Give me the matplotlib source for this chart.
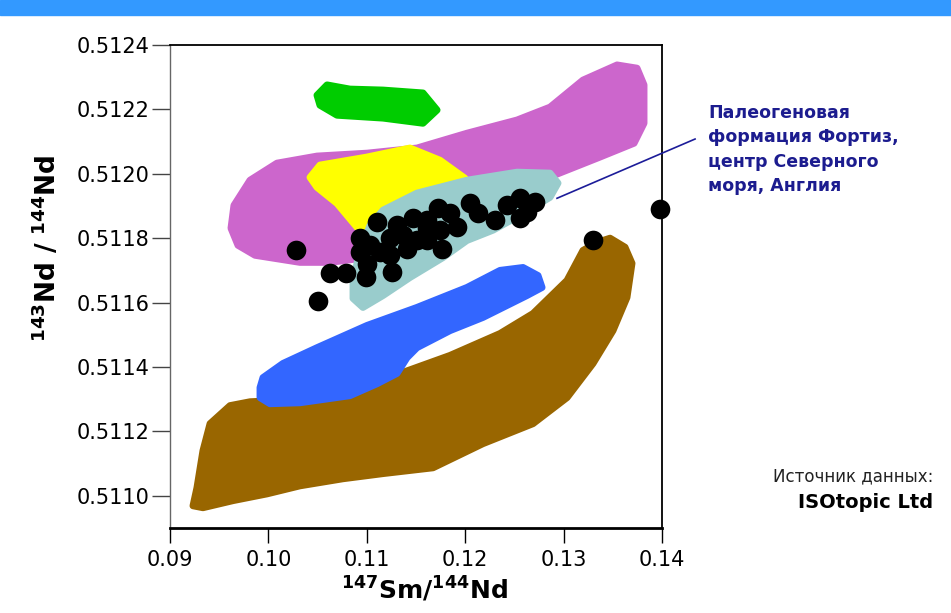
import matplotlib
matplotlib.use('Agg')
import matplotlib.pyplot as plt
from matplotlib.patches import Polygon, Rectangle
import numpy as np

plt.rcParams['font.family'] = ['DejaVu Sans']
plt.rcParams['mathtext.fontset'] = 'dejavusans'

# field outlines (147Sm/144Nd, 143Nd/144Nd)
green_x = [0.10494, 0.10596, 0.10829, 0.11165, 0.11571, 0.11714, 0.11571, 0.11165, 0.10697, 0.10524]
green_y = [0.512244, 0.512276, 0.512263, 0.512260, 0.512251, 0.512198, 0.512157, 0.512173, 0.512182, 0.512213]

magenta_x = [0.09620, 0.09650, 0.09813, 0.10087, 0.10494, 0.11002, 0.11510, 0.12018, 0.12527, 0.12862,
             0.13197, 0.13543, 0.13746, 0.13817, 0.13817, 0.13716, 0.13370, 0.12933, 0.12354, 0.11846,
             0.11337, 0.10931, 0.10626, 0.10321, 0.09864, 0.09691]
magenta_y = [0.511831, 0.511902, 0.511980, 0.512033, 0.512055, 0.512064, 0.512080, 0.512126, 0.512167, 0.512207,
             0.512291, 0.512338, 0.512328, 0.512276, 0.512157, 0.512095, 0.512052, 0.511999, 0.511964, 0.511918,
             0.511840, 0.511737, 0.511725, 0.511725, 0.511747, 0.511778]

yellow_x = [0.10423, 0.10524, 0.11002, 0.11439, 0.11744, 0.11998, 0.11642, 0.11236, 0.11033, 0.10900, 0.10697, 0.10494]
yellow_y = [0.511989, 0.512027, 0.512052, 0.512080, 0.512042, 0.511986, 0.511902, 0.511856, 0.511834, 0.511834, 0.511908, 0.511958]

cyan_x = [0.11165, 0.11510, 0.12018, 0.12527, 0.12862, 0.12943, 0.12862, 0.12557, 0.12283, 0.12018,
          0.11775, 0.11439, 0.11165, 0.10961, 0.10860, 0.10860, 0.10931, 0.11033]
cyan_y = [0.511887, 0.511940, 0.511980, 0.512005, 0.512002, 0.511971, 0.511927, 0.511871, 0.511825, 0.511793,
          0.511740, 0.511678, 0.511622, 0.511585, 0.511613, 0.511669, 0.511762, 0.511840]

blue_x = [0.09915, 0.09945, 0.10148, 0.10494, 0.11002, 0.11510, 0.12018, 0.12354, 0.12588, 0.12740, 0.12781,
          0.12628, 0.12181, 0.11846, 0.11510, 0.11409, 0.11307, 0.11104, 0.10829, 0.10321, 0.10016, 0.09915]
blue_y = [0.511336, 0.511367, 0.511411, 0.511460, 0.511529, 0.511585, 0.511647, 0.511700, 0.511709, 0.511684, 0.511647,
          0.511622, 0.511554, 0.511513, 0.511460, 0.511429, 0.511380, 0.511348, 0.511311, 0.511289, 0.511286, 0.511305]

brown_x = [0.09234, 0.09274, 0.09335, 0.09407, 0.09610, 0.09813, 0.10494, 0.10961, 0.11337, 0.11846, 0.12354,
           0.12689, 0.13035, 0.13197, 0.13340, 0.13472, 0.13624, 0.13695, 0.13644, 0.13502, 0.13299, 0.13035,
           0.12689, 0.12181, 0.11673, 0.11165, 0.10758, 0.10321, 0.09986, 0.09640, 0.09335]
brown_y = [0.510969, 0.511025, 0.511140, 0.511224, 0.511280, 0.511292, 0.511302, 0.511327, 0.511380, 0.511436, 0.511504,
           0.511566, 0.511669, 0.511762, 0.511787, 0.511800, 0.511772, 0.511722, 0.511616, 0.511513, 0.511411, 0.511305,
           0.511224, 0.511162, 0.511087, 0.511069, 0.511053, 0.511031, 0.511006, 0.510985, 0.510963]

# Fortiz formation samples
sm_nd = [0.10281, 0.10504, 0.10626, 0.10789, 0.10992, 0.11256, 0.10931, 0.10931, 0.11104, 0.11033,
         0.11134, 0.11236, 0.11307, 0.11409, 0.11470, 0.11612, 0.11236, 0.11002, 0.11724, 0.11612,
         0.11846, 0.11917, 0.11744, 0.11612, 0.11764, 0.12049, 0.12130, 0.12303, 0.12425, 0.12557,
         0.12709, 0.12557, 0.12628, 0.13299, 0.13980, 0.11368, 0.11510]
nd_nd = [0.511762, 0.511604, 0.511691, 0.511691, 0.511678, 0.511694, 0.511800, 0.511756, 0.511849, 0.511778,
         0.511756, 0.511747, 0.511840, 0.511768, 0.511862, 0.511831, 0.511800, 0.511719, 0.511893, 0.511856,
         0.511877, 0.511834, 0.511824, 0.511793, 0.511768, 0.511908, 0.511877, 0.511856, 0.511902, 0.511924,
         0.511912, 0.511862, 0.511880, 0.511793, 0.511890, 0.511809, 0.511793]

pointer_x = [0.12933, 0.14336]
pointer_y = [0.511924, 0.512108]

xticks = [0.09, 0.10, 0.11, 0.12, 0.13, 0.14]
xtick_labels = ['0.09', '0.10', '0.11', '0.12', '0.13', '0.14']
yticks = [0.5110, 0.5112, 0.5114, 0.5116, 0.5118, 0.5120, 0.5122, 0.5124]
ytick_labels = ['0.5110', '0.5112', '0.5114', '0.5116', '0.5118', '0.5120', '0.5122', '0.5124']

fields = [
    (brown_x, brown_y, '#996600'),
    (blue_x, blue_y, '#3366ff'),
    (magenta_x, magenta_y, '#cc66cc'),
    (yellow_x, yellow_y, '#ffff00'),
    (cyan_x, cyan_y, '#99cccc'),
    (green_x, green_y, '#00cc00'),
]

fig = plt.figure(figsize=(9.51, 6.13), dpi=100)
fig.patches.append(Rectangle((0, 1 - 15/613), 1, 15/613, transform=fig.transFigure,
                             color='#3399ff', zorder=0))
ax = fig.add_axes([170/951, 1 - 528/613, 492/951, 483/613])

for xs, ys, c in fields:
    ax.add_patch(Polygon(np.column_stack([xs, ys]), closed=True, facecolor=c,
                         edgecolor=c, linewidth=5, joinstyle='round', zorder=2))

ax.scatter(sm_nd, nd_nd, s=200, color='black', zorder=4, clip_on=False, linewidths=0)
ax.plot(pointer_x, pointer_y, color='#1c1c99', linewidth=1.2, clip_on=False, zorder=3)

ax.set_xlim(0.09, 0.14)
ax.set_ylim(0.5109, 0.5124)
ax.set_xticks(xticks)
ax.set_xticklabels(xtick_labels)
ax.set_yticks(yticks)
ax.set_yticklabels(ytick_labels)
ax.tick_params(axis='x', length=11, width=1, pad=5, labelsize=15, colors='black')
ax.tick_params(axis='y', length=13, width=1, pad=2, labelsize=15, color='#444444')

ax.spines['left'].set_color('#666666')
ax.spines['left'].set_linewidth(1)
ax.spines['bottom'].set_linewidth(2)
ax.spines['top'].set_linewidth(1.3)
ax.spines['right'].set_linewidth(1.3)

fig.text(424/951, 1 - 590/613, r'$\mathbf{^{147}Sm/^{144}Nd}$', fontsize=18,
         ha='center', va='center')
fig.text(47/951, 1 - 248/613, r'$\mathbf{^{143}Nd\ /\ ^{144}Nd}$', fontsize=19,
         ha='center', va='center', rotation=90)

fig.text(708/951, 1 - 104/613,
         'Палеогеновая\nформация Фортиз,\nцентр Северного\nморя, Англия',
         fontsize=12.5, fontweight='bold', color='#1c1c8f', ha='left', va='top',
         linespacing=1.45)
fig.text(933/951, 1 - 481/613, 'Источник данных:', fontsize=12, color='#222222',
         ha='right', va='baseline')
fig.text(933/951, 1 - 508/613, 'ISOtopic Ltd', fontsize=14, fontweight='bold',
         color='black', ha='right', va='baseline')

fig.savefig('out.png', dpi=100)
